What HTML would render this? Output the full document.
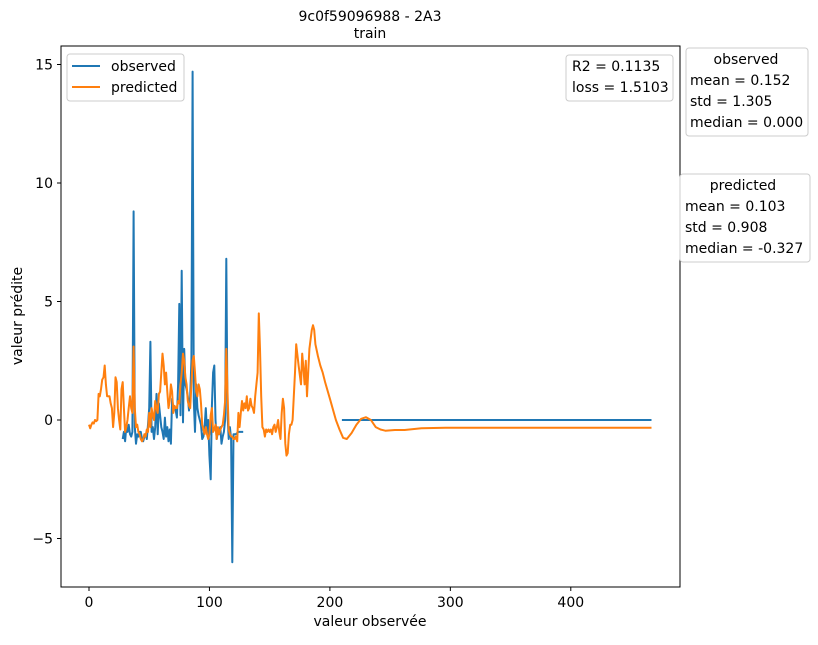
<!DOCTYPE html>
<html><head><meta charset="utf-8"><style>
body{margin:0;background:#fff;}
svg text{font-family:"DejaVu Sans","Liberation Sans",sans-serif;font-size:14px;fill:#000;}
</style></head><body>
<svg id="chart" width="818" height="640" xmlns="http://www.w3.org/2000/svg">
<text x="370" y="21" text-anchor="middle">9c0f59096988 - 2A3</text>
<text x="370" y="38" text-anchor="middle">train</text>
<g id="lines"></g>
<rect x="61" y="46" width="619" height="541" fill="none" stroke="#000" stroke-width="1"/>
<g id="axes"></g>
<text x="370" y="626" text-anchor="middle">valeur observée</text>
<text transform="translate(22,316) rotate(-90)" text-anchor="middle">valeur prédite</text>
<g>
<rect x="67" y="54" width="117" height="47" rx="3" fill="#fff" stroke="#ccc"/>
<line x1="72" y1="66" x2="100" y2="66" stroke="#1f77b4" stroke-width="2"/>
<text x="111" y="71">observed</text>
<line x1="72" y1="87" x2="100" y2="87" stroke="#ff7f0e" stroke-width="2"/>
<text x="111" y="92">predicted</text>
</g>
<g>
<rect x="566" y="55" width="107" height="46" rx="3" fill="#fff" stroke="#ccc"/>
<text x="572" y="71">R2 = 0.1135</text>
<text x="572" y="92">loss = 1.5103</text>
</g>
<g>
<rect x="686" y="48" width="122" height="88" rx="3" fill="#fff" stroke="#ccc"/>
<text x="746" y="64" text-anchor="middle">observed</text>
<text x="690" y="85">mean = 0.152</text>
<text x="690" y="106">std = 1.305</text>
<text x="690" y="127">median = 0.000</text>
</g>
<g>
<rect x="680" y="174" width="130" height="88" rx="3" fill="#fff" stroke="#ccc"/>
<text x="743" y="190" text-anchor="middle">predicted</text>
<text x="685" y="211">mean = 0.103</text>
<text x="685" y="232">std = 0.908</text>
<text x="685" y="253">median = -0.327</text>
</g>
</svg>
<script>
const xTicks=[0,100,200,300,400];
const yTicks=[-5,0,5,10,15];
const yTickLabels=["−5","0","5","10","15"];
const obsX=[28,29,30,31,32,33,34,35,36,37,38,39,40,41,42,43,44,45,46,47,48,49,50,51,52,53,54,55,56,57,58,59,60,61,62,63,64,65,66,67,68,69,70,71,72,73,74,75,76,77,78,79,80,81,82,83,84,85,86,87,88,89,90,91,92,93,94,95,96,97,98,99,100,101,102,103,104,105,106,107,108,109,110,111,112,113,114,115,116,117,118,119,120,121,122,124,126,128];
const obsY=[-0.8,-0.5,-0.9,-0.3,-0.5,-0.2,-0.6,-0.7,-0.5,8.8,-0.3,-1.0,-0.6,-0.7,-0.5,-0.5,-0.8,-0.9,-0.7,-0.6,-0.8,-0.2,0.5,3.3,-0.5,-0.3,-0.8,-0.3,1.1,-0.6,0.7,0.2,-0.3,-0.5,-0.8,0.1,-0.7,-0.3,-0.9,-0.4,-1.0,0.9,0.5,0.5,0.4,0.1,1.5,4.9,0.2,6.3,-0.1,3.0,1.5,1.3,1.0,0.4,1.0,2.5,14.7,0.8,-0.5,1.5,0.5,0.2,0.0,-0.2,-0.8,-0.7,-0.3,0.5,-0.5,0.0,-1.5,-2.5,0.6,2.0,2.3,0.0,-0.8,-0.5,-0.6,-0.3,-1.0,-0.7,-0.5,0.0,6.8,0.3,-0.8,-0.3,-0.8,-6.0,-0.6,-0.6,-0.6,-0.5,-0.5,-0.5];
const obsTailX=[210,467];
const obsTailY=[0,0];
const predX=[0,1,2,3,4,5,6,7,8,9,10,11,12,13,14,15,16,17,18,19,20,21,22,23,24,25,26,27,28,29,30,31,32,33,34,35,36,37,38,39,40,41,42,43,44,45,46,47,48,49,50,51,52,53,54,55,56,57,58,59,60,61,62,63,64,65,66,67,68,69,70,71,72,73,74,75,76,77,78,79,80,81,82,83,84,85,86,87,88,89,90,91,92,93,94,95,96,97,98,99,100,101,102,103,104,105,106,107,108,109,110,111,112,113,114,115,116,117,118,119,120,121,122,123,124,125,126,127,128,129,130,131,132,133,134,135,136,137,138,139,140,141,142,143,144,145,146,147,148,149,150,151,152,153,154,155,156,157,158,159,160,161,162,163,164,165,166,167,168,169,170,171,172,174,176,177,178,179,180,181,183,185,186,187,188,190,192,194,196,200,205,208,211,214,218,222,226,230,234,238,242,246,254,262,276,296,340,467];
const predY=[-0.2,-0.35,-0.2,-0.1,-0.15,0,-0.05,0.0,1.1,1.0,1.3,1.7,1.8,2.3,1.5,1.0,1.0,1.0,0.7,0.5,-0.3,0.3,1.8,1.6,0.5,0.0,-0.4,1.3,1.6,0.5,-0.5,-0.3,0.0,0.5,1.0,0.5,0.3,3.1,0.5,-0.3,-0.2,-0.5,-0.6,-0.8,-0.9,-0.8,-0.6,-0.7,-0.4,-0.5,0.3,-0.3,0.5,0.2,0.0,0.8,0.5,0.3,1.1,1.2,2.0,2.8,2.3,1.5,2.0,1.2,0.5,0.8,1.5,1.2,0.3,0.6,0.5,0.5,0.8,0.7,1.5,2.0,2.8,2.5,1.8,1.5,0.8,0.6,0.5,1.5,2.5,2.7,2.0,1.2,1.0,1.5,1.3,0.7,-0.2,-0.4,-0.6,-0.3,-0.6,-0.8,-0.6,0.2,0.5,-0.5,-0.4,-0.2,-0.8,-0.3,-0.6,-0.4,-0.3,-0.2,0.2,0.8,3.0,1.2,-0.4,-0.6,-0.7,-0.7,-0.8,-0.8,-0.7,-0.9,0.3,-0.3,0.3,0.8,0.4,0.7,0.5,1.0,0.4,0.5,0.9,0.6,0.5,0.3,1.0,1.5,2.0,4.5,3.0,1.0,-0.3,-0.4,-0.7,-0.4,-0.5,-0.4,-0.5,-0.4,-0.6,-0.3,-0.2,-0.5,-0.3,0.0,-0.5,-0.8,0.3,0.9,0.5,-1.0,-1.5,-1.4,-0.6,-0.2,-0.2,0.0,1.0,2.0,3.2,2.3,1.5,2.8,2.2,1.5,2.5,1.0,3.0,3.8,4.0,3.8,3.2,2.7,2.3,2.0,1.6,0.9,0.0,-0.4,-0.75,-0.8,-0.55,-0.2,0.05,0.12,0,-0.3,-0.4,-0.45,-0.42,-0.42,-0.35,-0.33,-0.33,-0.33];

const NS='http://www.w3.org/2000/svg';
function sx(v){return 89+v*1.2045;}
function sy(v){return 420-v*23.7;}
const lines=document.getElementById('lines');
const axes=document.getElementById('axes');
function mk(tag,attrs,parent){const e=document.createElementNS(NS,tag);for(const k in attrs)e.setAttribute(k,attrs[k]);parent.appendChild(e);return e;}
function path(xs,ys){return xs.map((x,i)=>(i?'L':'M')+sx(x).toFixed(1)+','+sy(ys[i]).toFixed(1)).join(' ');}
const p1=mk('path',{d:path(obsX,obsY),fill:'none',stroke:'#1f77b4','stroke-width':2,'stroke-linejoin':'round'},lines);


const p1b=mk('path',{d:path(obsTailX,obsTailY),fill:'none',stroke:'#1f77b4','stroke-width':2},lines);


const p2=mk('path',{d:path(predX,predY),fill:'none',stroke:'#ff7f0e','stroke-width':2,'stroke-linejoin':'round'},lines);


xTicks.forEach(t=>{
  const x=sx(t);
  mk('line',{x1:x,y1:587,x2:x,y2:591,stroke:'#000'},axes);
  const tx=mk('text',{x:x,y:607,'text-anchor':'middle'},axes);
  tx.textContent=String(t);
  
  
});
yTicks.forEach((t,i)=>{
  const y=sy(t);
  mk('line',{x1:57,y1:y,x2:61,y2:y,stroke:'#000'},axes);
  const tx=mk('text',{x:53,y:y+5,'text-anchor':'end'},axes);
  tx.textContent=yTickLabels[i];
  
  
});
</script>
</body></html>
